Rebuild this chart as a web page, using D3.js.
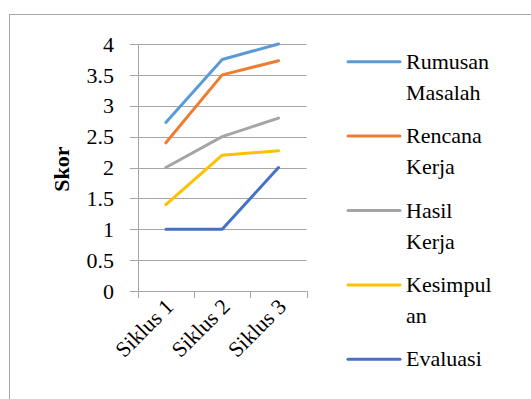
<!DOCTYPE html>
<html><head><meta charset="utf-8">
<script src="https://cdn.jsdelivr.net/npm/d3@7"></script>
</head><body style="margin:0">
<svg id="c" width="531" height="399"></svg>
<script>
const categories = ["Siklus 1", "Siklus 2", "Siklus 3"];
const seriesNames = ["Rumusan Masalah", "Rencana Kerja", "Hasil Kerja", "Kesimpulan", "Evaluasi"];
const legendLines = [["Rumusan", "Masalah"], ["Rencana", "Kerja"], ["Hasil", "Kerja"], ["Kesimpul", "an"], ["Evaluasi"]];
const rumusan = [2.73, 3.75, 4];
const rencana = [2.4, 3.5, 3.73];
const hasil = [2, 2.5, 2.8];
const kesimpulan = [1.4, 2.2, 2.27];
const evaluasi = [1, 1, 2];
const yTicks = [0, 0.5, 1, 1.5, 2, 2.5, 3, 3.5, 4];
const colors = ["#5B9BD5", "#ED7D31", "#A5A5A5", "#FFC000", "#4472C4"];
const seriesValues = [rumusan, rencana, hasil, kesimpulan, evaluasi];

const svg = d3.select("#c");
const fs = 22;
const FF = 'Tinos, "Liberation Serif", "Times New Roman", serif';

svg.append("rect").attr("x", 9.5).attr("y", 14.5).attr("width", 560).attr("height", 420)
  .attr("fill", "none").attr("stroke", "#a6a6a6").attr("stroke-width", 1);

const x0 = 137.7, x1 = 306.7, yTop = 44, yBot = 291;
const x = d3.scaleBand().domain(categories).range([x0, x1]).paddingInner(0).paddingOuter(0);
const y = d3.scaleLinear().domain([0, 4]).range([yBot, yTop]);

svg.append("g").selectAll("line").data(yTicks).join("line")
  .attr("x1", x0 - 8).attr("x2", x1).attr("y1", d => Math.round(y(d)) + 0.5).attr("y2", d => Math.round(y(d)) + 0.5)
  .attr("stroke", "#a6a6a6").attr("stroke-width", 1);

svg.append("line").attr("x1", Math.round(x0) + 0.5).attr("x2", Math.round(x0) + 0.5)
  .attr("y1", yTop).attr("y2", yBot + 7).attr("stroke", "#a6a6a6");

const xt = categories.map(c => x(c)).concat([x1]);
svg.append("g").selectAll("line").data(xt).join("line")
  .attr("x1", d => Math.round(d) + 0.5).attr("x2", d => Math.round(d) + 0.5)
  .attr("y1", yBot).attr("y2", yBot + 7).attr("stroke", "#a6a6a6");

function txt() {
  return svg.append("text").attr("font-family", FF).attr("font-size", fs).attr("fill", "#000");
}

yTicks.forEach(d => {
  txt().attr("x", 114).attr("y", y(d)).attr("dy", "0.35em").attr("text-anchor", "end").text(String(d));
});

txt().attr("transform", "translate(69,169) rotate(-90)")
  .attr("text-anchor", "middle").attr("font-weight", "bold").text("Skor");

categories.forEach(c => {
  txt().attr("transform", `translate(${x(c) + x.bandwidth() / 2 + 9},${yBot + 17}) rotate(-45)`)
    .attr("text-anchor", "end").text(c);
});

const line = d3.line().x((d, i) => x(categories[i]) + x.bandwidth() / 2).y(d => y(d));
svg.append("g").selectAll("path").data(seriesValues).join("path")
  .attr("d", d => line(d)).attr("fill", "none")
  .attr("stroke", (d, i) => colors[i]).attr("stroke-width", 3).attr("stroke-linecap", "round").attr("stroke-linejoin", "round");

seriesNames.forEach((n, i) => {
  const ly = 61.7 + i * 74.4;
  svg.append("line").attr("x1", 348).attr("x2", 400).attr("y1", ly).attr("y2", ly)
    .attr("stroke", colors[i]).attr("stroke-width", 3).attr("stroke-linecap", "round");
  legendLines[i].forEach((t, j) => {
    txt().attr("x", 406).attr("y", ly + 7 + j * 31).text(t);
  });
});
</script>
</body></html>
